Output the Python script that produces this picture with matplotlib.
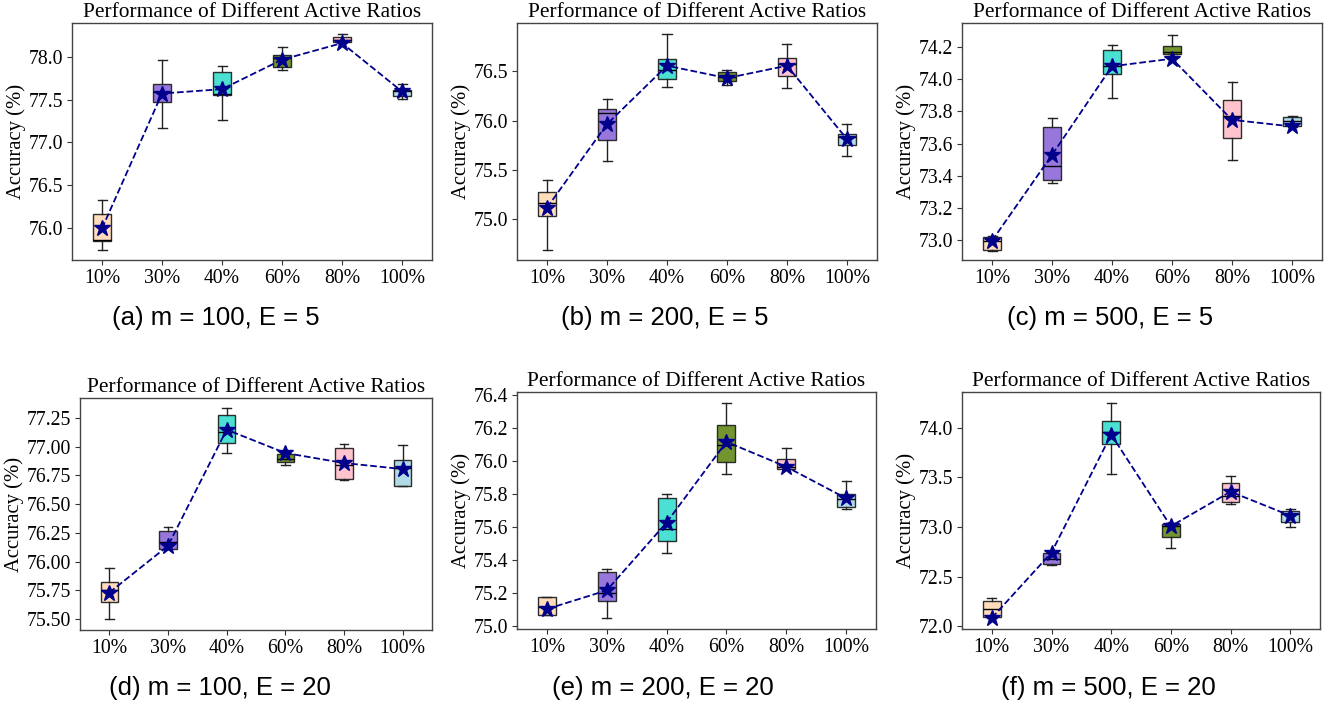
import matplotlib
matplotlib.use("Agg")
import matplotlib.pyplot as plt
from matplotlib.ticker import FormatStrFormatter

ratios = ["10%", "30%", "40%", "60%", "80%", "100%"]
box_colors = ["peachpuff", "mediumpurple", "turquoise", "olivedrab", "pink", "lightblue"]

# (a) m = 100, E = 5
a_lo = [75.74, 77.17, 77.26, 77.85, 78.175, 77.51]
a_q1 = [75.84, 77.47, 77.555, 77.88, 78.18, 77.546]
a_med = [75.855, 77.585, 77.566, 77.99, 78.20, 77.597]
a_q3 = [76.157, 77.683, 77.83, 78.027, 78.235, 77.617]
a_hi = [76.325, 77.97, 77.89, 78.114, 78.27, 77.687]
a_mean = [75.99, 77.573, 77.624, 77.97, 78.164, 77.597]

# (b) m = 200, E = 5
b_lo = [74.685, 75.587, 76.337, 76.361, 76.33, 75.638]
b_q1 = [75.031, 75.804, 76.422, 76.398, 76.456, 75.753]
b_med = [75.163, 76.076, 76.51, 76.44, 76.575, 75.838]
b_q3 = [75.275, 76.12, 76.626, 76.493, 76.639, 75.859]
b_hi = [75.394, 76.222, 76.88, 76.517, 76.778, 75.964]
b_mean = [75.115, 75.964, 76.558, 76.432, 76.558, 75.811]

# (c) m = 500, E = 5
c_lo = [72.934, 73.353, 73.882, 74.156, 73.498, 73.702]
c_q1 = [72.938, 73.374, 74.034, 74.158, 73.633, 73.706]
c_med = [72.996, 73.463, 74.084, 74.17, 73.768, 73.743]
c_q3 = [73.021, 73.70, 74.179, 74.206, 73.868, 73.762]
c_hi = [73.025, 73.758, 74.21, 74.275, 73.982, 73.772]
c_mean = [72.996, 73.529, 74.08, 74.127, 73.747, 73.706]

# (d) m = 100, E = 20
d_lo = [75.50, 76.108, 76.945, 76.843, 76.706, 76.654]
d_q1 = [75.645, 76.11, 77.035, 76.866, 76.721, 76.66]
d_med = [75.753, 76.174, 77.128, 76.892, 76.843, 76.814]
d_q3 = [75.82, 76.27, 77.273, 76.936, 76.985, 76.881]
d_hi = [75.948, 76.297, 77.337, 76.94, 77.023, 77.017]
d_mean = [75.73, 76.137, 77.148, 76.945, 76.858, 76.805]

# (e) m = 200, E = 20
e_lo = [75.065, 75.047, 75.439, 75.917, 75.948, 75.707]
e_q1 = [75.067, 75.151, 75.512, 75.989, 75.95, 75.72]
e_med = [75.111, 75.198, 75.586, 76.094, 75.96, 75.768]
e_q3 = [75.171, 75.324, 75.776, 76.215, 76.01, 75.796]
e_hi = [75.173, 75.343, 75.796, 76.35, 76.078, 75.874]
e_mean = [75.101, 75.214, 75.625, 76.114, 75.963, 75.772]

# (f) m = 500, E = 20
f_lo = [72.084, 72.619, 73.528, 72.786, 73.231, 72.997]
f_q1 = [72.09, 72.625, 73.833, 72.896, 73.254, 73.047]
f_med = [72.171, 72.679, 73.957, 73.007, 73.311, 73.13]
f_q3 = [72.258, 72.736, 74.064, 73.033, 73.438, 73.161]
f_hi = [72.281, 72.738, 74.247, 73.035, 73.512, 73.181]
f_mean = [72.084, 72.742, 73.93, 73.007, 73.355, 73.114]

captions = ["(a) m = 100, E = 5", "(b) m = 200, E = 5", "(c) m = 500, E = 5",
            "(d) m = 100, E = 20", "(e) m = 200, E = 20", "(f) m = 500, E = 20"]

panels = [
    (a_lo, a_q1, a_med, a_q3, a_hi, a_mean, (75.62, 78.40), [76.0, 76.5, 77.0, 77.5, 78.0], "%.1f"),
    (b_lo, b_q1, b_med, b_q3, b_hi, b_mean, (74.583, 76.992), [75.0, 75.5, 76.0, 76.5], "%.1f"),
    (c_lo, c_q1, c_med, c_q3, c_hi, c_mean, (72.876, 74.349), [73.0, 73.2, 73.4, 73.6, 73.8, 74.0, 74.2], "%.1f"),
    (d_lo, d_q1, d_med, d_q3, d_hi, d_mean, (75.404, 77.424), [75.5, 75.75, 76.0, 76.25, 76.5, 76.75, 77.0, 77.25], "%.2f"),
    (e_lo, e_q1, e_med, e_q3, e_hi, e_mean, (74.98, 76.416), [75.0, 75.2, 75.4, 75.6, 75.8, 76.0, 76.2, 76.4], "%.1f"),
    (f_lo, f_q1, f_med, f_q3, f_hi, f_mean, (71.973, 74.358), [72.0, 72.5, 73.0, 73.5, 74.0], "%.1f"),
]

W, H = 1337, 707
# axes boxes in pixels: left, right, top, bottom
ax_px = [(72, 432, 23, 260), (517, 877, 23, 260), (962, 1322, 23, 260),
         (80, 432, 398, 630), (517, 876, 392, 629), (962, 1320, 392, 629)]
cap_px = [(216, 318), (665, 318), (1110, 318), (220, 688), (663, 688), (1108, 688)]

serif = ["Liberation Serif", "DejaVu Serif"]
sans = ["Liberation Sans", "DejaVu Sans"]

fig = plt.figure(figsize=(W / 100, H / 100), dpi=100)

for i, (lo, q1, med, q3, hi, mean, ylim, yt, fmt) in enumerate(panels):
    l, r, t, b = ax_px[i]
    ax = fig.add_axes([l / W, 1 - b / H, (r - l) / W, (b - t) / H])
    stats = []
    for k in range(len(ratios)):
        stats.append(dict(whislo=lo[k], q1=q1[k], med=med[k], q3=q3[k], whishi=hi[k], fliers=[]))
    pos = list(range(1, len(ratios) + 1))
    bp = ax.bxp(stats, positions=pos, widths=0.3, patch_artist=True, showfliers=False,
                boxprops=dict(edgecolor="#222222", linewidth=1.0),
                medianprops=dict(color="black", linewidth=1.0),
                whiskerprops=dict(color="#222222", linewidth=1.0),
                capprops=dict(color="#222222", linewidth=1.0))
    for patch, c in zip(bp["boxes"], box_colors):
        patch.set_facecolor(c)
        patch.set_alpha(0.95)
    ax.plot(pos, mean, linestyle="--", color="darkblue", linewidth=1.3,
            marker="*", markersize=12, markerfacecolor="darkblue", markeredgecolor="darkblue", zorder=5)
    ax.set_xlim(0.5, 6.5)
    ax.set_ylim(*ylim)
    ax.set_yticks(yt)
    ax.yaxis.set_major_formatter(FormatStrFormatter(fmt))
    ax.set_xticks(pos)
    ax.set_xticklabels(ratios)
    for lab in ax.get_xticklabels() + ax.get_yticklabels():
        lab.set_fontfamily(serif)
        lab.set_fontsize(14.2)
    ax.tick_params(axis="both", length=3.5, width=0.8, color="#333333", pad=3)
    for sp in ax.spines.values():
        sp.set_color("#444444")
        sp.set_linewidth(1.0)
    ax.set_title("Performance of Different Active Ratios", fontfamily=serif, fontsize=15.4, pad=4)
    ax.set_ylabel("Accuracy (%)", fontfamily=serif, fontsize=14.9, labelpad=2)
    cx, cy = cap_px[i]
    fig.text(cx / W, 1 - cy / H, captions[i], ha="center", va="center",
             fontfamily=sans, fontsize=18.5)

fig.savefig("out.png", dpi=100)
